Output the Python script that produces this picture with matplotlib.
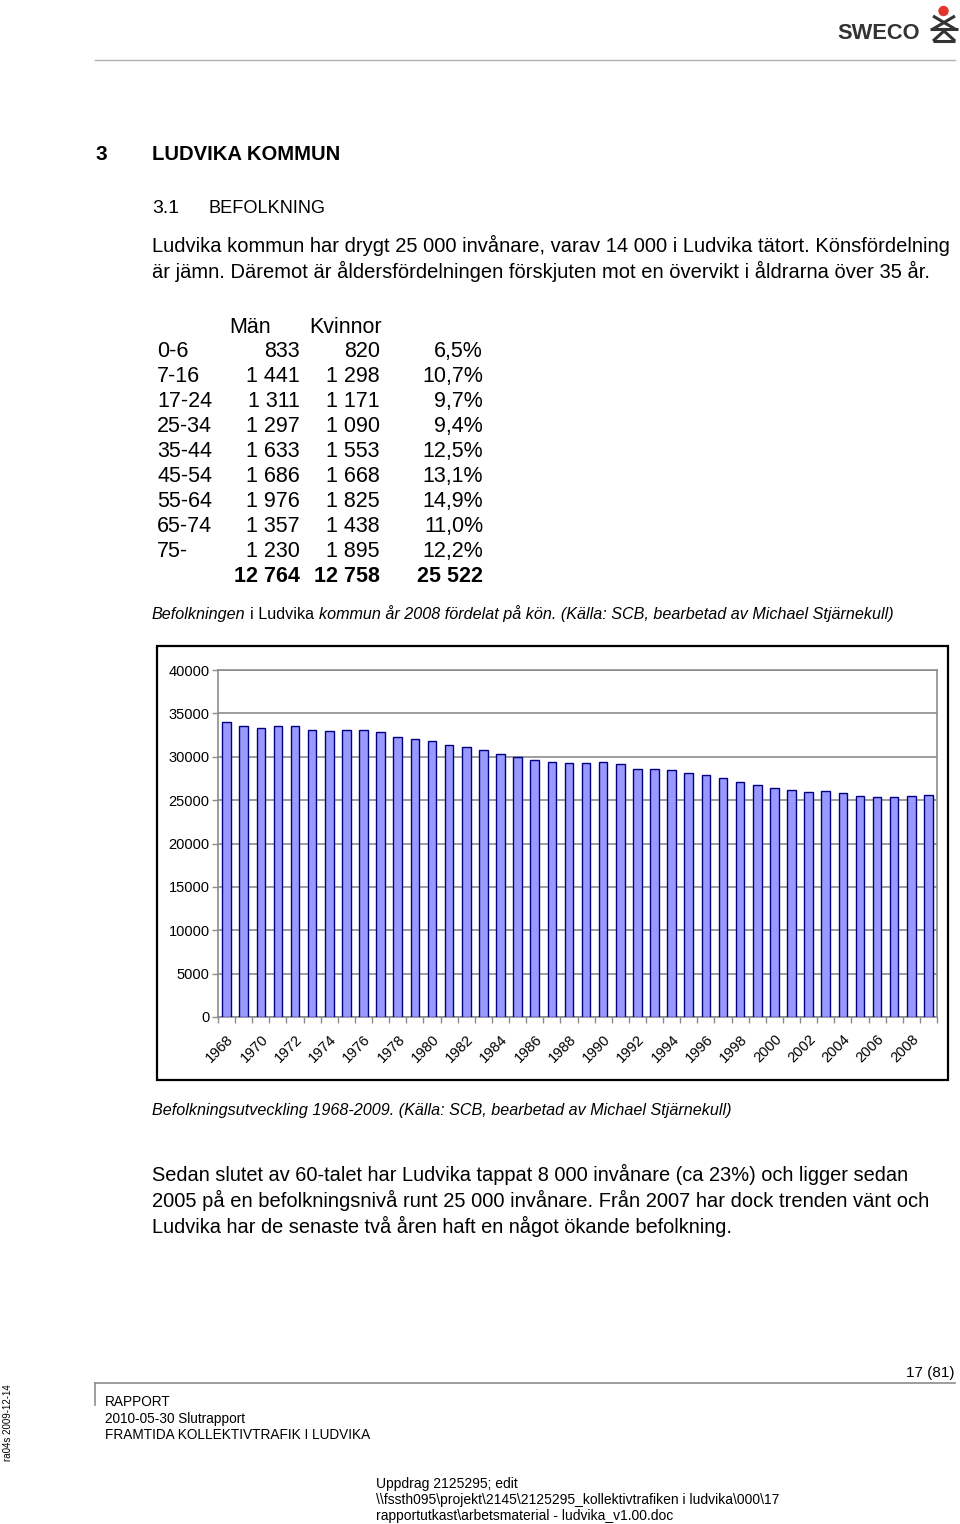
import matplotlib
matplotlib.use('Agg')
import matplotlib.pyplot as plt
from matplotlib.patches import Rectangle, Circle
from matplotlib.lines import Line2D

plt.rcParams['font.family'] = ['Liberation Sans', 'DejaVu Sans']

# ---------------- data ----------------
years = list(range(1968, 2010))
population = [33990, 33490, 33330, 33490, 33490, 33100, 32980, 33100, 33100, 32830,
              32330, 32020, 31820, 31400, 31120, 30770, 30310, 30000, 29610, 29420,
              29300, 29300, 29410, 29220, 28630, 28630, 28520, 28130, 27890, 27500,
              27070, 26800, 26410, 26170, 25900, 26020, 25780, 25470, 25390, 25390,
              25522, 25630]
y_ticks = [0, 5000, 10000, 15000, 20000, 25000, 30000, 35000, 40000]

age_groups = ['0-6', '7-16', '17-24', '25-34', '35-44', '45-54', '55-64', '65-74', '75-']
men = [833, 1441, 1311, 1297, 1633, 1686, 1976, 1357, 1230]
women = [820, 1298, 1171, 1090, 1553, 1668, 1825, 1438, 1895]
shares = ['6,5%', '10,7%', '9,7%', '9,4%', '12,5%', '13,1%', '14,9%', '11,0%', '12,2%']
total_men = 12764
total_women = 12758
total_all = 25522

W, H = 960, 1524
fig = plt.figure(figsize=(W / 100, H / 100), dpi=100)
renderer = fig.canvas.get_renderer()


def fx(x):
    return x / W


def fy(y):
    return 1 - y / H


def txt(x, y, s, size, ha='left', va='baseline', **kw):
    return fig.text(fx(x), fy(y), s, fontsize=size, ha=ha, va=va, **kw)


def width(t):
    return t.get_window_extent(renderer).width


def fit(t, target):
    t.set_fontsize(t.get_fontsize() * target / width(t))
    return t


def fmt(v):
    return f"{v:,}".replace(',', ' ')


# ---------------- header ----------------
fit(txt(837, 39, 'SWECO', 15, weight='bold', color='#333333'), 83)
fig.add_artist(Circle((943.5 / 100, (H - 11) / 100), 0.045, transform=fig.dpi_scale_trans,
                      color='#e3342f', zorder=5))
for (x0, y0, x1, y1) in [(933, 16, 955, 29), (955, 16, 933, 29), (930, 29, 958, 29),
                         (933, 41, 955, 41), (933, 41, 944, 31), (955, 41, 944, 31)]:
    fig.add_artist(Line2D([fx(x0), fx(x1)], [fy(y0), fy(y1)], transform=fig.transFigure,
                          color='#333333', lw=2.2, solid_capstyle='butt'))
fig.add_artist(Line2D([fx(95), fx(955)], [fy(60), fy(60)], transform=fig.transFigure,
                      color='#b0b0b0', lw=1))

# ---------------- headings ----------------
txt(95, 160, '3', 15, weight='bold')
fit(txt(152, 160, 'LUDVIKA KOMMUN', 15, weight='bold'), 188)
txt(152, 213, '3.1', 14)
fit(txt(209, 213, 'BEFOLKNING', 14), 117)

para1 = ['Ludvika kommun har drygt 25 000 invånare, varav 14 000 i Ludvika tätort. Könsfördelning',
         'är jämn. Däremot är åldersfördelningen förskjuten mot en övervikt i åldrarna över 35 år.']
para1_w = [801, 780]
for i, (line, w) in enumerate(zip(para1, para1_w)):
    fit(txt(152, 252 + 26 * i, line, 14), w)

# ---------------- table ----------------
tsize = 15.5
txt(229, 333, 'Män', tsize)
txt(309, 333, 'Kvinnor', tsize)
for i, (g, m, w_, s) in enumerate(zip(age_groups, men, women, shares)):
    yb = 357 + 25 * i
    txt(157, yb, g, tsize)
    txt(300, yb, fmt(m), tsize, ha='right')
    txt(380, yb, fmt(w_), tsize, ha='right')
    txt(483, yb, s, tsize, ha='right')
yb = 357 + 25 * len(age_groups)
txt(300, yb, fmt(total_men), tsize, ha='right', weight='bold')
txt(380, yb, fmt(total_women), tsize, ha='right', weight='bold')
txt(483, yb, fmt(total_all), tsize, ha='right', weight='bold')

# caption 1 (mixed italic)
cap_parts = [('Befolkningen', 'italic'), ('i Ludvika', 'normal'),
             ('kommun år 2008 fördelat på kön. (Källa: SCB, bearbetad av Michael Stjärnekull)', 'italic')]
probe = txt(0, 0, ' '.join(p for p, _ in cap_parts), 12, style='italic')
fit(probe, 741)
csize = probe.get_fontsize()
probe.remove()
a = txt(0, 0, 'a a', csize)
b = txt(0, 0, 'aa', csize)
space = width(a) - width(b)
a.remove()
b.remove()
x = 152
for part, st in cap_parts:
    t = txt(x, 619, part, csize, style=st)
    x += width(t) + space

# ---------------- chart ----------------
fig.add_artist(Rectangle((fx(157), fy(1080)), (948 - 157) / W, (1080 - 646) / H,
                         transform=fig.transFigure, fill=False, edgecolor='black', lw=1.6))

ax = fig.add_axes([fx(218), fy(1017), (937 - 218) / W, (1017 - 670) / H])
pos = list(range(len(years)))
ax.bar(pos, population, width=0.5, color='#9999ff', edgecolor='#000080', lw=1, zorder=3)
ax.set_xlim(-0.5, len(years) - 0.5)
ax.set_ylim(0, 40000)
ax.set_yticks(y_ticks)
ax.set_yticklabels([str(v) for v in y_ticks], fontsize=10.5)
ax.yaxis.grid(True, color='#8c8c8c', lw=1.2, zorder=0)
ax.set_axisbelow(True)
for sp in ax.spines.values():
    sp.set_color('#8c8c8c')
    sp.set_linewidth(1.2)
ax.tick_params(axis='y', direction='out', length=4, width=1, color='#8c8c8c', pad=2)
ax.set_xticks([p - 0.5 for p in pos] + [len(years) - 0.5])
ax.set_xticklabels([])
ax.tick_params(axis='x', which='major', direction='out', length=4, width=1, color='#8c8c8c')
label_pos = pos[::2]
ax.set_xticks(label_pos, minor=True)
ax.set_xticklabels([str(years[p]) for p in label_pos], minor=True, rotation=45,
                   ha='right', va='top', rotation_mode='anchor', fontsize=10.5)
ax.tick_params(axis='x', which='minor', length=0, pad=11)

fit(txt(152, 1115, 'Befolkningsutveckling 1968-2009. (Källa: SCB, bearbetad av Michael Stjärnekull)',
        12, style='italic'), 579)

para2 = ['Sedan slutet av 60-talet har Ludvika tappat 8 000 invånare (ca 23%) och ligger sedan',
         '2005 på en befolkningsnivå runt 25 000 invånare. Från 2007 har dock trenden vänt och',
         'Ludvika har de senaste två åren haft en något ökande befolkning.']
para2_w = [764, 780, 587]
for i, (line, w) in enumerate(zip(para2, para2_w)):
    fit(txt(152, 1181 + 26 * i, line, 14), w)

# ---------------- footer ----------------
txt(955, 1377, '17 (81)', 11, ha='right')
fig.add_artist(Line2D([fx(95), fx(955)], [fy(1383), fy(1383)], transform=fig.transFigure,
                      color='#8c8c8c', lw=1.2))
fig.add_artist(Line2D([fx(95), fx(95)], [fy(1383), fy(1405)], transform=fig.transFigure,
                      color='#8c8c8c', lw=1.2))
f3 = fit(txt(105, 1439, 'FRAMTIDA KOLLEKTIVTRAFIK I LUDVIKA', 9), 264)
fsz = f3.get_fontsize()
txt(105, 1406, 'RAPPORT', fsz)
txt(105, 1423, '2010-05-30 Slutrapport', fsz)
rot = fit(txt(8, 1423, 'ra04s 2009-12-14', 8, ha='center', va='center'), 77)
rot.set_rotation(90)
u1 = fit(txt(376, 1504, '\\\\fssth095\\projekt\\2145\\2125295_kollektivtrafiken i ludvika\\000\\17', 9.5), 404)
usz = u1.get_fontsize()
txt(376, 1488, 'Uppdrag 2125295; edit', usz)
txt(376, 1520, 'rapportutkast\\arbetsmaterial - ludvika_v1.00.doc', usz)

fig.savefig('out.png', dpi=100)
